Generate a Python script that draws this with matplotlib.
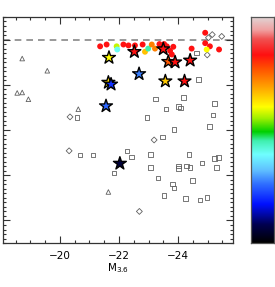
import numpy as np
import matplotlib
matplotlib.use('Agg')
from matplotlib import pyplot as plt
from matplotlib.colors import LinearSegmentedColormap
from matplotlib.ticker import MultipleLocator, NullFormatter

# Filled circles (colour-coded)
circ_x = [-21.36, -21.58, -21.92, -21.94, -22.15, -22.32, -22.54, -22.80, -22.88, -22.99,
          -23.11, -23.22, -23.37, -23.45, -23.53, -23.62, -23.73, -23.79, -23.84, -24.46,
          -24.92, -24.92, -25.08, -24.97, -25.39]
circ_y = [4.35, 4.39, 4.35, 4.28, 4.39, 4.37, 4.37, 4.39, 4.23, 4.30,
          4.39, 4.30, 4.40, 4.31, 4.40, 4.35, 4.25, 4.17, 4.34, 4.30,
          4.65, 4.42, 4.35, 4.28, 4.28]
circ_c = [0.83, 0.83, 0.57, 0.40, 0.83, 0.83, 0.83, 0.83, 0.66, 0.45,
          0.72, 0.72, 0.83, 0.83, 0.83, 0.83, 0.83, 0.83, 0.83, 0.83,
          0.83, 0.83, 0.83, 0.60, 0.83]

# Stars (colour-coded)
star_x = [-21.66, -22.52, -23.50, -23.67, -23.90, -24.41, -22.68, -23.57, -24.22,
          -21.64, -21.73, -21.56, -22.03]
star_y = [4.10, 4.23, 4.29, 4.01, 4.00, 4.04, 3.74, 3.58, 3.58,
          3.55, 3.51, 3.03, 1.76]
star_c = [0.60, 0.83, 0.83, 0.76, 0.83, 0.83, 0.27, 0.65, 0.83,
          0.63, 0.20, 0.25, 0.06]

# Open triangles
tri_x = [-18.72, -19.57, -18.55, -18.72, -18.93, -20.62, -21.64]
tri_y = [4.08, 3.81, 3.32, 3.33, 3.18, 2.96, 1.13]

# Open diamonds
dia_x = [-20.34, -20.31, -23.19, -22.69, -25.03, -25.16, -25.48, -24.99]
dia_y = [2.79, 2.04, 2.28, 0.70, 4.54, 4.61, 4.57, 4.16]

# Open squares
sq_x = [-20.57, -20.67, -21.12, -22.28, -22.42, -21.84, -24.63, -24.69, -23.24, -24.18,
        -25.23, -23.60, -24.01, -24.09, -25.18, -22.94, -25.06, -23.87, -23.48, -23.07,
        -24.38, -23.07, -24.01, -24.01, -24.29, -24.41, -24.82, -25.23, -25.37, -25.31,
        -23.33, -24.49, -23.81, -23.87, -23.53, -24.25, -24.75, -24.99]
sq_y = [2.78, 1.95, 1.95, 2.04, 1.90, 1.55, 4.20, 3.62, 3.18, 3.22,
        3.09, 2.96, 3.02, 2.98, 2.83, 2.78, 2.58, 2.51, 2.35, 1.96,
        1.96, 1.67, 1.70, 1.65, 1.70, 1.67, 1.77, 1.87, 1.89, 1.67,
        1.44, 1.38, 1.31, 1.22, 1.05, 0.99, 0.95, 1.01]

y_limit = 4.5

# Colour table (black -> blue -> cyan -> green -> yellow -> red -> pale pink)
cmap_nodes = [0.0, 0.08, 0.17, 0.26, 0.32, 0.39, 0.45, 0.49, 0.55, 0.60,
              0.69, 0.77, 0.83, 0.90, 0.94, 1.0]
cmap_cols = ['#000000', '#000050', '#0010ff', '#3070ff', '#60c0ff', '#70ffff',
             '#40f0b0', '#00d000', '#a0f000', '#ffff00', '#ffa000', '#ff5000',
             '#ff1010', '#f05050', '#f0a0a0', '#e0d8d8']
cmap = LinearSegmentedColormap.from_list('rainbow_white', list(zip(cmap_nodes, cmap_cols)))

fig = plt.figure(figsize=[2.75, 2.87], dpi=100)
ax = fig.add_axes([0.011, 0.153, 0.836, 0.788])
cax = fig.add_axes([0.913, 0.153, 0.084, 0.788])

gray = '#606060'
ax.axhline(y_limit, color='#888888', lw=1.2, ls=(0, (4, 3)), zorder=1)
ax.scatter(tri_x, tri_y, marker='^', s=11, facecolors='none', edgecolors=gray, linewidths=0.6, zorder=2)
ax.scatter(dia_x, dia_y, marker='D', s=9, facecolors='none', edgecolors=gray, linewidths=0.6, zorder=2)
ax.scatter(sq_x, sq_y, marker='s', s=10, facecolors='none', edgecolors=gray, linewidths=0.6, zorder=2)
ax.scatter(circ_x, circ_y, marker='o', s=18, c=circ_c, cmap=cmap, vmin=0, vmax=1,
           edgecolors='none', zorder=3)
ax.scatter(star_x, star_y, marker='*', s=95, c=star_c, cmap=cmap, vmin=0, vmax=1,
           edgecolors='black', linewidths=1.0, zorder=4)

ax.set_xlim(-18.07, -25.86)
ax.set_ylim(0, 5)
ax.xaxis.set_major_locator(MultipleLocator(2))
ax.xaxis.set_minor_locator(MultipleLocator(0.5))
ax.yaxis.set_major_locator(MultipleLocator(1, offset=0.5))
ax.yaxis.set_minor_locator(MultipleLocator(0.1))
ax.yaxis.set_major_formatter(NullFormatter())
ax.tick_params(which='both', direction='in', top=True, right=True, color='#333333', width=0.8)
ax.tick_params(which='major', length=5, labelsize=7.5, pad=6)
ax.tick_params(which='minor', length=2.5)
for s in ax.spines.values():
    s.set_color('#333333')
    s.set_linewidth(0.9)
ax.set_xlabel('M$_{3.6}$', fontsize=7.5, labelpad=0)

# Colour bar
grad = np.linspace(0, 1, 256).reshape(-1, 1)
cax.imshow(grad, aspect='auto', cmap=cmap, origin='lower', extent=[0, 1, 0, 1])
cax.set_xticks([])
cax.set_yticks([])
for s in cax.spines.values():
    s.set_color('#555555')
    s.set_linewidth(0.9)

fig.savefig('out.png', dpi=100)
